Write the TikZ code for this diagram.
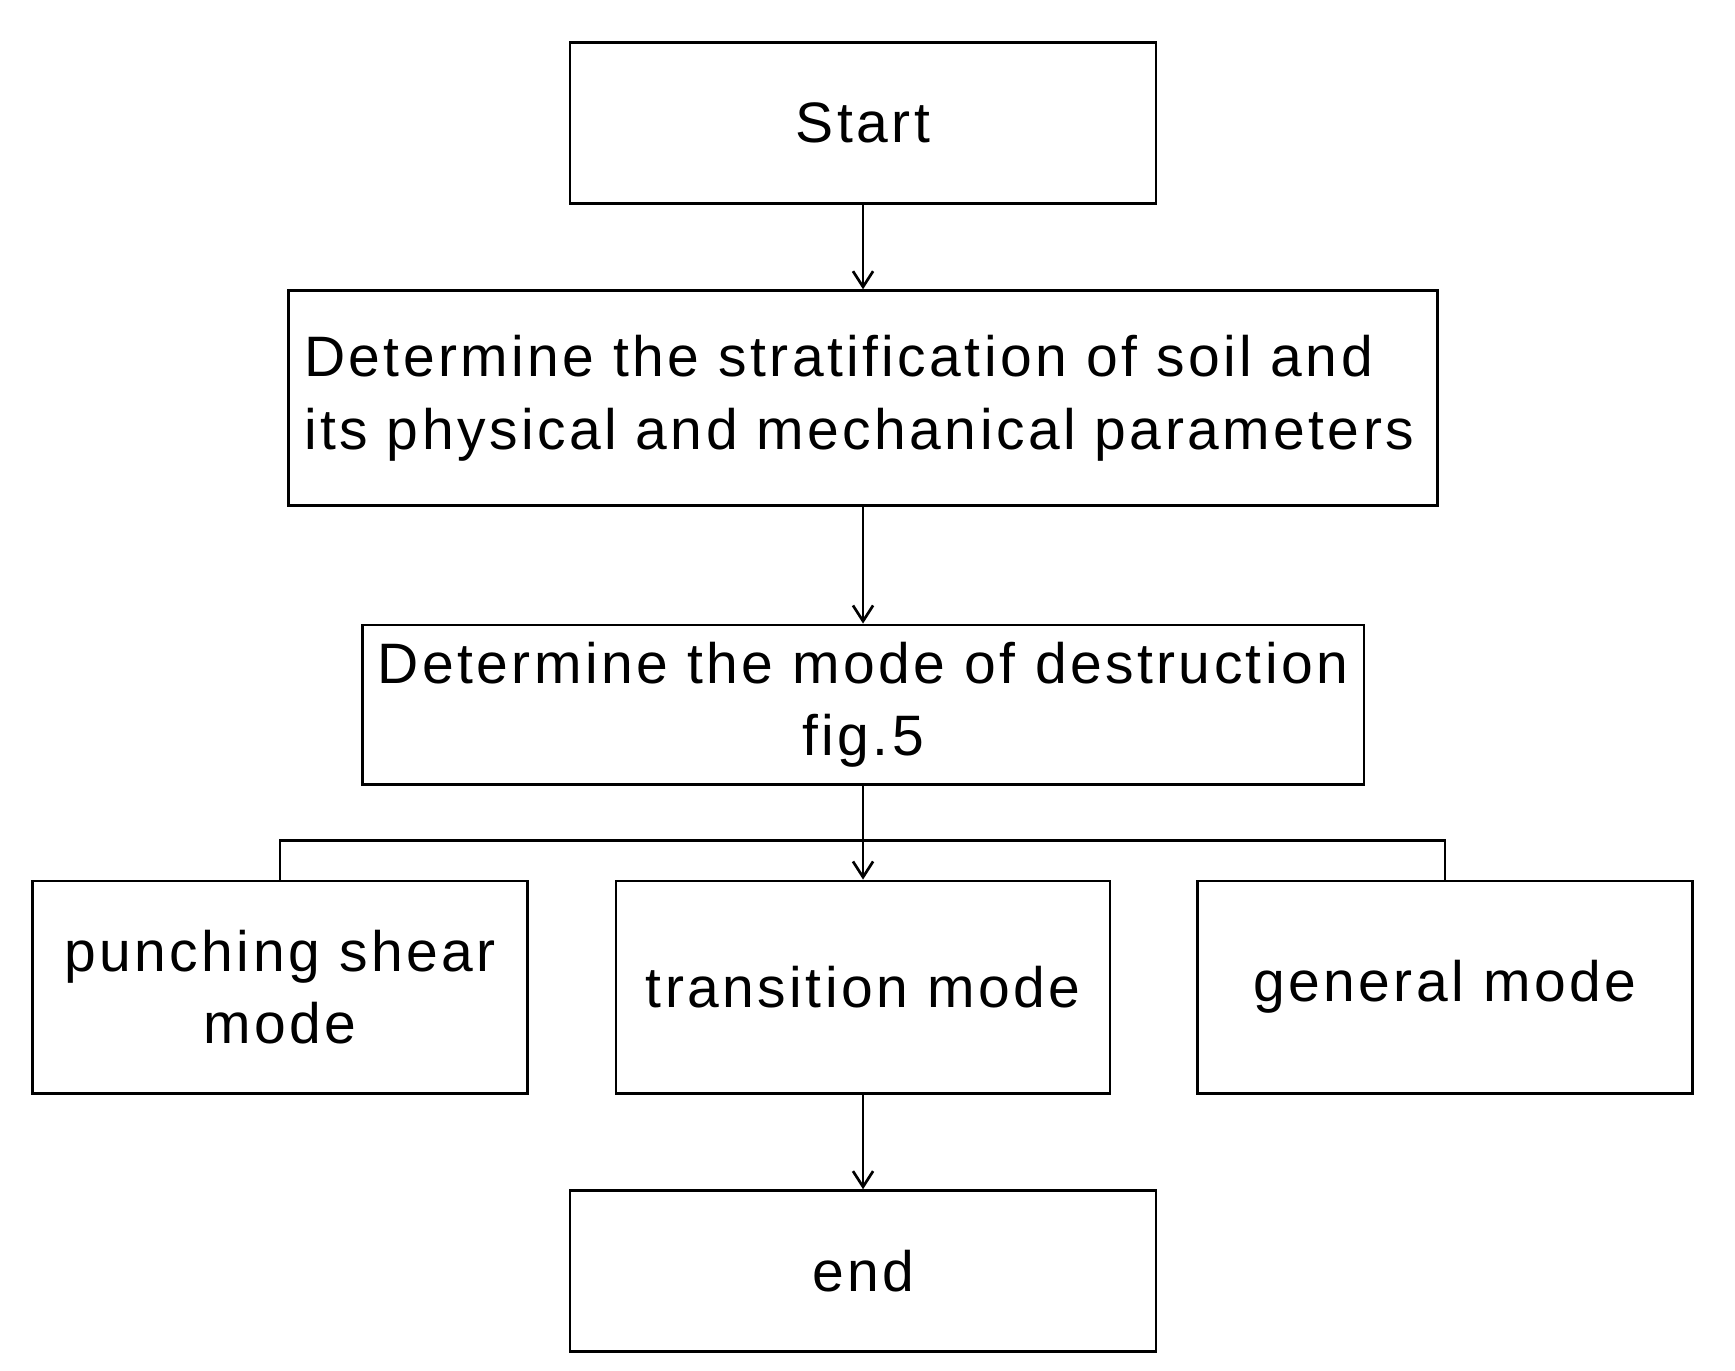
\documentclass[tikz,border=0pt]{standalone}
\usepackage{fontspec}
\setmainfont{Liberation Sans}[LetterSpace=6]
\usetikzlibrary{arrows.meta}
\begin{document}
\begin{tikzpicture}[x=0.5pt,y=-0.5pt,
 box/.style={draw,line width=1.2pt,inner sep=0pt,align=center,font=\fontsize{25.5}{32.5}\selectfont},
 arr/.style={->,line width=1.2pt,>={Straight Barb[length=7pt,width=9pt]}}]
\useasboundingbox (0,0) rectangle (1552,1226);
\node[box,minimum width=262pt,minimum height=72pt] (s) at (772,110) {Start};
\node[box,minimum width=514pt,minimum height=96pt,align=left,text width=500pt] (d1) at (772,356) {Determine the stratification of soil and\\its physical and mechanical parameters};
\node[box,minimum width=448pt,minimum height=71.5pt] (d2) at (772,630.5) {Determine the mode of destruction\\fig.5};
\node[box,minimum width=221.5pt,minimum height=95pt] (p) at (250.5,883) {punching shear\\mode};
\node[box,minimum width=221pt,minimum height=95pt] (t) at (772,883) {transition mode};
\node[box,minimum width=221.5pt,minimum height=95pt] (g) at (1292.5,883) {general mode};
\node[box,minimum width=262pt,minimum height=72pt] (e) at (772,1137) {end};
\draw[arr] (s) -- (d1);
\draw[arr] (d1) -- (d2);
\draw[arr] (d2) -- (t);
\coordinate (b) at (772,752);
\draw[line width=1.2pt] (p.north) |- (b) -| (g.north);
\draw[arr] (t) -- (e);
\end{tikzpicture}
\end{document}
